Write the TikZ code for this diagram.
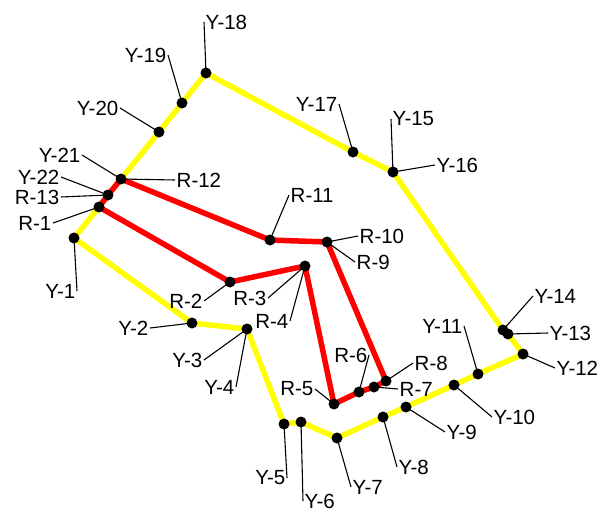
\documentclass[tikz,border=0pt]{standalone}
\usepackage{fontspec}
\setmainfont{Liberation Sans}
\usetikzlibrary{positioning}
\definecolor{ring}{HTML}{FFFF00}
\definecolor{route}{HTML}{FF0000}

\begin{document}
\begin{tikzpicture}[x=1pt, y=-1pt, every node/.style={font=\fontsize{20.5}{23}\selectfont, inner sep=1.5pt},
    dot/.style={circle, fill=black, inner sep=0pt, minimum size=11pt},
    leader/.style={black, line width=1.1pt}]
  \useasboundingbox (0,0) rectangle (605,512);
  % survey points
  \foreach \n/\x/\y in {Y1/74/238, Y2/192/323, Y3/247/329, Y5/284/424, Y6/301/422, Y7/337/438,
      Y8/383/417, Y9/406/407, Y10/454/385, Y11/478/374, Y12/523/354, Y13/508/334, Y14/503/330,
      Y16/393/172, Y17/353/152, Y18/206/73, Y19/182/103, Y20/159/132, Y21/121/179, Y22/108/195,
      R1/99/207, R2/230/282, R3/305/266, R5/334/404, R6/359/392, R7/374/387, R8/386/381,
      R9/327/242, R11/270/240}{
    \coordinate (\n) at (\x,\y);
  }
  \draw[ring, line width=5.5pt, line join=round] (Y1) -- (Y2) -- (Y3) -- (Y5) -- (Y6) -- (Y7) -- (Y8)
    -- (Y9) -- (Y10) -- (Y11) -- (Y12) -- (Y13) -- (Y14) -- (Y16) -- (Y17) -- (Y18) -- (Y19)
    -- (Y20) -- (Y21) -- (Y22) -- (R1) -- cycle;
  \draw[route, line width=5.5pt, line join=round] (R1) -- (R2) -- (R3) -- (R5) -- (R6) -- (R7)
    -- (R8) -- (R9) -- (R11) -- (Y21) -- (Y22) -- cycle;
  % labels
  \foreach \p/\x/\y/\a/\l in {Y1/77/291/east/{Y-1}, Y2/150/328/east/{Y-2}, Y3/204/360/east/{Y-3},
      Y3/236/387/east/{Y-4}, Y5/287/478/east/{Y-5}, Y6/303/501/west/{Y-6}, Y7/351/487/west/{Y-7},
      Y8/397/467/west/{Y-8}, Y9/445/432/west/{Y-9}, Y10/492/417/west/{Y-10}, Y11/464/326/east/{Y-11},
      Y12/555/368/west/{Y-12}, Y13/548/333/west/{Y-13}, Y14/533/296/west/{Y-14},
      Y16/391/119/west/{Y-15}, Y16/435/165/west/{Y-16}, Y17/339/104/east/{Y-17},
      Y18/204/22/west/{Y-18}, Y19/168/55/east/{Y-19}, Y20/120/108/east/{Y-20},
      Y21/82/155/east/{Y-21}, Y22/61/177/east/{Y-22}, Y22/61/197/east/{R-13}, R1/53/223/east/{R-1},
      Y21/175/180/west/{R-12}, R11/289/195/west/{R-11}, R9/358/236/west/{R-10}, R9/355/262/west/{R-9},
      R2/204/301/east/{R-2}, R3/268/298/east/{R-3}, R3/290/321/east/{R-4}, R5/315/389/east/{R-5},
      R6/369/355/east/{R-6}, R7/398/389/west/{R-7}, R8/413/363/west/{R-8}}{
    \node[anchor=\a] (lbl-\l) at (\x,\y) {\l};
    \draw[leader] (\p) -- (lbl-\l.\a);
  }
  \foreach \n in {Y1, Y2, Y3, Y5, Y6, Y7, Y8, Y9, Y10, Y11, Y12, Y13, Y14, Y16, Y17, Y18, Y19, Y20,
      Y21, Y22, R1, R2, R3, R5, R6, R7, R8, R9, R11}{
    \node[dot] (dot-\n) at (\n) {};
  }
\end{tikzpicture}
\end{document}
